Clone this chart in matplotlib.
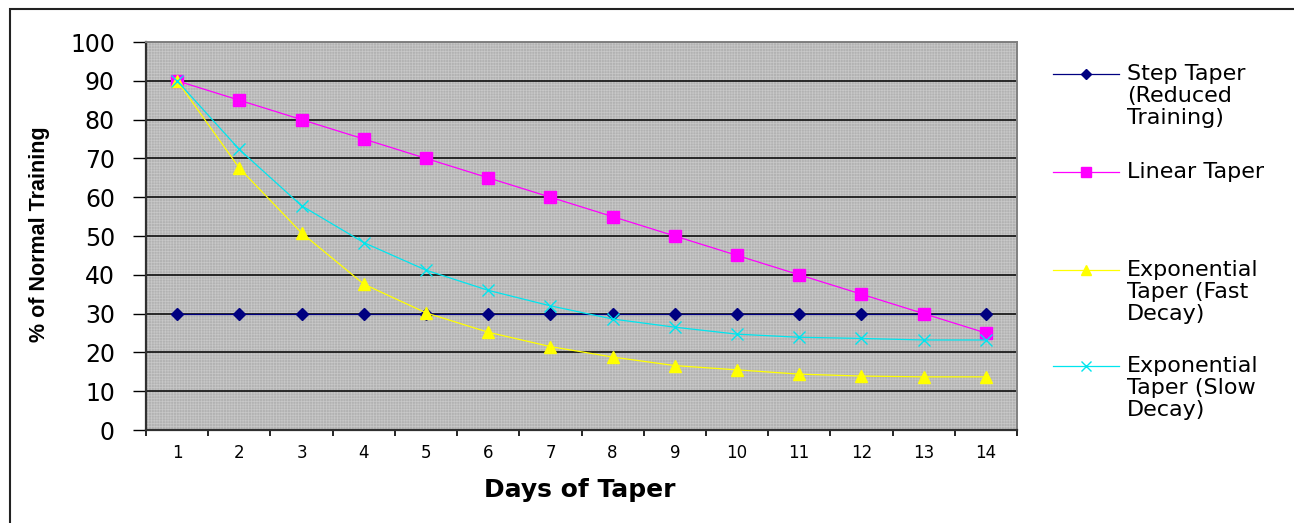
import matplotlib
matplotlib.use("Agg")
import matplotlib.pyplot as plt
from matplotlib.lines import Line2D
from matplotlib.patches import Rectangle
import numpy as np

days = list(range(1, 15))
step_taper = [30] * 14
linear_taper = [90, 85, 80, 75, 70, 65, 60, 55, 50, 45, 40, 35, 30, 25]
fast_decay = [90, 67.5, 50.8, 37.6, 30.2, 25.2, 21.5, 18.8, 16.6, 15.5, 14.4, 13.9, 13.7, 13.7]
slow_decay = [90, 72.3, 57.8, 48.3, 41.2, 36.0, 32.0, 28.6, 26.5, 24.7, 23.9, 23.6, 23.2, 23.2]
labels = ["Step Taper\n(Reduced\nTraining)", "Linear Taper",
          "Exponential\nTaper (Fast\nDecay)", "Exponential\nTaper (Slow\nDecay)"]
y_ticks = list(range(0, 101, 10))

plt.rcParams['hatch.linewidth'] = 0.5
W, H = 1294, 523
fig = plt.figure(figsize=(W / 100, H / 100), dpi=100)
ax = fig.add_axes([146 / W, 1 - 430 / H, (1017 - 146) / W, (430 - 42) / H])
ax.set_facecolor('#b2b2b2')
ax.add_patch(Rectangle((0, 0), 1, 1, transform=ax.transAxes, facecolor='none',
                       hatch='++++++', edgecolor='#c8c8c8', lw=0, zorder=0.5))

series = [
    (step_taper, '#000080', 'D', 6.5, dict()),
    (linear_taper, '#ff00ff', 's', 8, dict()),
    (fast_decay, '#ffff00', '^', 8, dict()),
    (slow_decay, '#00e5ee', 'x', 9, dict(markeredgewidth=1.0)),
]
for vals, c, m, ms, kw in series:
    ax.plot(days, vals, color=c, lw=0.9, marker=m, markersize=ms,
            markerfacecolor=c, markeredgecolor=c, zorder=3, **kw)

ax.set_xlim(0.5, 14.5)
ax.set_ylim(0, 100)
ax.set_yticks(y_ticks)
ax.set_yticklabels([str(v) for v in y_ticks], fontsize=17, family='DejaVu Sans')
ax.yaxis.grid(True, color='black', lw=1.1)
ax.set_axisbelow(True)
ax.set_xticks(np.arange(0.5, 15, 1))
ax.set_xticklabels([])
ax.set_xticks(days, minor=True)
ax.set_xticklabels([str(d) for d in days], minor=True, fontsize=12, family='DejaVu Sans')
ax.tick_params(axis='x', which='minor', length=0, pad=10)
ax.tick_params(axis='x', which='major', length=4, width=1.2, direction='out')
ax.tick_params(axis='y', length=9.4, width=1, direction='out', pad=13)

for s in ['left', 'bottom']:
    ax.spines[s].set_color('#303030')
    ax.spines[s].set_linewidth(1.6)
for s in ['top', 'right']:
    ax.spines[s].set_color('#808080')
    ax.spines[s].set_linewidth(1.4)

fig.text(40 / W, 1 - 234 / H, '% of Normal Training', rotation=90, ha='center', va='center',
         fontsize=15.5, fontweight='bold', family='Liberation Sans')
fig.text(580 / W, 1 - 490 / H, 'Days of Taper', ha='center', va='center',
         fontsize=18, fontweight='bold', family='DejaVu Sans')

# legend
ys = [74, 172, 270, 366]
for (vals, c, m, ms, kw), lab, yy in zip(series, labels, ys):
    yf = 1 - yy / H
    fig.add_artist(Line2D([1053 / W, 1119 / W], [yf, yf], color=c, lw=0.9))
    fig.add_artist(Line2D([1086 / W], [yf], color=c, marker=m, markersize=ms * 0.85,
                          markerfacecolor=c, markeredgecolor=c, **kw))
    for k, line in enumerate(lab.split('\n')):
        fig.text(1127 / W, 1 - (yy + 22 * k) / H, line, ha='left', va='center',
                 fontsize=16, family='DejaVu Sans')

fig.add_artist(Rectangle((10 / W, -0.05), 1.2, (1 - 9 / H) + 0.05, transform=fig.transFigure,
                         facecolor='none', edgecolor='#222222', lw=1.5))

fig.savefig('out.png', dpi=100)
